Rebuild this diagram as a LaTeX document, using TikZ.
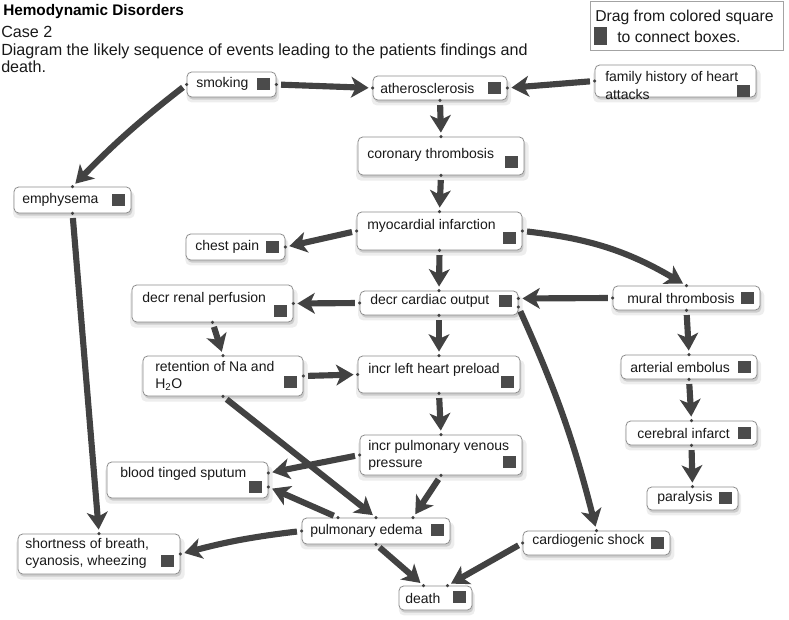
\documentclass[tikz,border=0pt]{standalone}
\usepackage{fontspec}
\setmainfont{Liberation Sans}
\usetikzlibrary{arrows.meta,shadows,fit,calc}
\definecolor{arrc}{RGB}{66,66,66}
\definecolor{sqc}{RGB}{75,75,75}
\definecolor{bordc}{RGB}{140,140,140}
\tikzset{
 boxst/.style={draw=bordc, line width=0.6pt, rounded corners=3.5pt, fill=white, inner sep=0pt,
   general shadow={fill=black, opacity=0.07, shadow xshift=1pt, shadow yshift=-3.5pt, shadow scale=1.04},
   general shadow={fill=black, opacity=0.14, shadow xshift=1pt, shadow yshift=-2pt}},
 txt/.style={font=\fontsize{10.5}{12.8}\selectfont, inner sep=0pt, align=left, anchor=west, text=black!90},
 hdr/.style={font=\fontsize{12.1}{13.1}\selectfont, inner sep=0pt, align=left, anchor=west, text=black!90},
 sq/.style={fill=sqc, minimum size=9.5pt, inner sep=0pt},
 arr/.style={draw=arrc, line width=4.6pt, -{Stealth[length=13pt,width=15.5pt,inset=3.5pt]}, shorten <=3.5pt, shorten >=3pt},
}
\newcommand\cbox[9]{%
 \node[boxst, fit={(#2,#3) (#4,#5)}] (#1) {};
 \node[txt] (#1-t) at (#6,#7) {#9};
 \node[sq] (#1-s) at (#4-12.5,#8) {};
}
\newcommand\conn[3][]{\draw[arr,#1] (#2) to (#3); \fill[arrc] (#2) circle (1.3pt) (#3) circle (1.3pt);}
\begin{document}
\begin{tikzpicture}[x=0.75pt,y=-0.75pt]
\useasboundingbox (0,0) rectangle (789,620);
% header
\node[anchor=west, font=\bfseries\fontsize{11.5}{13}\selectfont, inner sep=0pt] (title) at (3,11.5) {Hemodynamic Disorders};
\node[hdr] (case) at (1,32) {Case 2};
\node[hdr] (desc) at (1,58) {Diagram the likely sequence of events leading to the patients findings and\\death.};
% drag box
\node[draw=bordc!80, line width=0.6pt, fit={(590,1) (783,50)}, inner sep=0pt] (drag) {};
\node[hdr, font=\fontsize{11.8}{13}\selectfont] (dragt1) at (595,17) {Drag from colored square};
\node[hdr, font=\fontsize{11.8}{13}\selectfont] (dragt2) at (617,37) {to connect boxes.};
\node[fill=sqc, minimum width=9.75pt, minimum height=13.5pt, inner sep=0pt] (drags) at (600.5,36) {};
% boxes
\cbox{smoking}{187}{72}{276}{97}{196}{84}{84}{smoking}
\cbox{ath}{373}{76}{507}{100}{380}{88}{88}{atherosclerosis}
\cbox{fam}{595}{65}{756}{97}{605}{85.5}{91}{family history of heart\\attacks}
\cbox{cor}{358}{137}{524}{175}{367}{155}{162}{coronary thrombosis}
\cbox{emph}{14}{187}{131}{213}{22}{200}{200}{emphysema}
\cbox{myo}{357}{212}{522}{250}{367}{226}{238}{myocardial infarction}
\cbox{chest}{186}{234}{285}{260}{195}{247}{247}{chest pain}
\cbox{renal}{132}{285}{293}{322}{142}{299}{311}{decr renal perfusion}
\cbox{dco}{360}{291}{518}{315}{370}{301}{301}{decr cardiac output}
\cbox{mural}{613}{286}{760}{310}{627}{298}{298}{mural thrombosis}
\cbox{ret}{143}{356}{303}{396}{155}{376}{382}{retention of Na and\\H\textsubscript{2}O}
\cbox{lhp}{358}{356}{520}{393}{368}{370}{382}{incr left heart preload}
\cbox{ae}{621}{355}{757}{379}{630}{367}{367}{arterial embolus}
\cbox{ipv}{360}{435}{522}{475}{368}{455}{462}{incr pulmonary venous\\pressure}
\cbox{ci}{626}{421}{757}{445}{637}{433}{433}{cerebral infarct}
\cbox{bts}{107}{462}{268}{498}{120}{474}{487}{blood tinged sputum}
\cbox{par}{647}{487}{738}{510}{657}{498}{498}{paralysis}
\cbox{pe}{302}{518}{450}{544}{310}{531}{530}{pulmonary edema}
\cbox{cs}{523}{531}{670}{555}{532}{541}{543}{cardiogenic shock}
\cbox{sob}{18}{534}{180}{574}{25}{553}{561}{shortness of breath,\\cyanosis, wheezing}
\cbox{death}{399}{586}{472}{610}{405}{598}{597}{death}
% attachment points
\coordinate (dcoE1) at ([yshift=3.4pt]dco.east);
\coordinate (dcoE2) at ([yshift=-3pt]dco.east);
\coordinate (btsE1) at ([yshift=5.25pt]bts.east);
\coordinate (btsE2) at ([yshift=-5.25pt]bts.east);
\coordinate (peN1) at ([xshift=-28.5pt]pe.north);
\coordinate (peN3) at ([xshift=27.75pt]pe.north);
\coordinate (dN1) at ([xshift=-9pt]death.north);
\coordinate (dN2) at ([xshift=9pt]death.north);
% connectors
\conn{smoking.east}{ath.west}
\conn{fam.west}{ath.east}
\conn{ath.south}{cor.north}
\conn[bend right=4]{smoking.west}{emph.north}
\conn{cor.south}{myo.north}
\conn{myo.west}{chest.east}
\conn{myo.south}{dco.north}
\conn[bend left=12]{myo.east}{mural.north}
\conn{mural.west}{dcoE1}
\conn{dco.west}{renal.east}
\conn{dco.south}{lhp.north}
\conn{renal.south}{ret.north}
\conn{ret.east}{lhp.west}
\conn{lhp.south}{ipv.north}
\conn{ipv.west}{btsE1}
\conn{ipv.south}{peN3}
\conn{ret.south}{pe.north}
\conn{peN1}{btsE2}
\conn[bend right=4]{pe.west}{sob.east}
\conn{emph.south}{sob.north}
\conn{pe.south}{dN1}
\conn{cs.west}{dN2}
\conn[bend left=5]{dcoE2}{cs.north}
\conn{mural.south}{ae.north}
\conn{ae.south}{ci.north}
\conn{ci.south}{par.north}
\end{tikzpicture}
\end{document}
